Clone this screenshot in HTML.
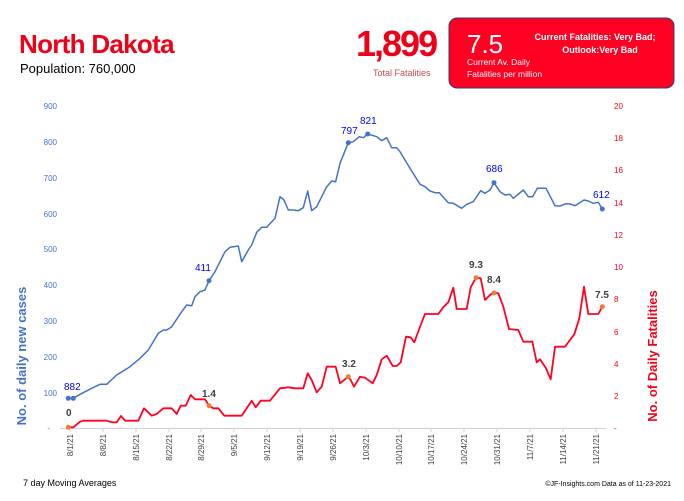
<!DOCTYPE html>
<html><head><meta charset="utf-8"><style>
body{margin:0;width:684px;height:496px;background:#fff;overflow:hidden;font-family:"Liberation Sans",sans-serif}
</style></head><body>
<svg width="684" height="496" viewBox="0 0 684 496" xmlns="http://www.w3.org/2000/svg" font-family="Liberation Sans, sans-serif">
<text x="19" y="53" font-size="26" font-weight="bold" fill="#f00018" letter-spacing="-0.7">North Dakota</text>
<text x="20" y="73" font-size="13" fill="#000">Population: 760,000</text>
<text x="356" y="56" font-size="36" font-weight="bold" fill="#f00018" letter-spacing="-2">1,899</text>
<text x="373" y="76" font-size="9" fill="#c0504d">Total Fatalities</text>
<rect x="449" y="18" width="225" height="70" rx="8" fill="#ff0022" stroke="#2f3f6f" stroke-width="1"/>
<text x="467" y="53" font-size="26" fill="#fff">7.5</text>
<text x="467" y="65" font-size="8.5" fill="#fff">Current Av. Daily</text>
<text x="467" y="77" font-size="8.5" fill="#fff">Fatalities per million</text>
<text x="595" y="40" font-size="9" font-weight="bold" fill="#fff" text-anchor="middle">Current Fatalities: Very Bad;</text>
<text x="600" y="53" font-size="9" font-weight="bold" fill="#fff" text-anchor="middle">Outlook:Very Bad</text>
<g font-size="8" fill="#4472c4" text-anchor="end">
<text x="57" y="109">900</text><text x="57" y="145">800</text><text x="57" y="181">700</text><text x="57" y="217">600</text><text x="57" y="252">500</text><text x="57" y="288">400</text><text x="57" y="324">300</text><text x="57" y="360">200</text><text x="57" y="396">100</text><text x="50" y="431">-</text>
</g>
<g font-size="8" fill="#f00018" text-anchor="start">
<text x="614" y="109">20</text><text x="614" y="141">18</text><text x="614" y="173">16</text><text x="614" y="206">14</text><text x="614" y="238">12</text><text x="614" y="270">10</text><text x="614" y="302">8</text><text x="614" y="335">6</text><text x="614" y="367">4</text><text x="614" y="399">2</text><text x="614" y="431">-</text>
</g>
<line x1="60" y1="428.5" x2="606" y2="428.5" stroke="#d0d0d0" stroke-width="1"/>
<g stroke="#d0d0d0">
<line x1="70" y1="428" x2="70" y2="432"/><line x1="103" y1="428" x2="103" y2="432"/><line x1="136" y1="428" x2="136" y2="432"/><line x1="169" y1="428" x2="169" y2="432"/><line x1="201" y1="428" x2="201" y2="432"/><line x1="234" y1="428" x2="234" y2="432"/><line x1="267" y1="428" x2="267" y2="432"/><line x1="300" y1="428" x2="300" y2="432"/><line x1="333" y1="428" x2="333" y2="432"/><line x1="366" y1="428" x2="366" y2="432"/><line x1="399" y1="428" x2="399" y2="432"/><line x1="431" y1="428" x2="431" y2="432"/><line x1="464" y1="428" x2="464" y2="432"/><line x1="497" y1="428" x2="497" y2="432"/><line x1="530" y1="428" x2="530" y2="432"/><line x1="563" y1="428" x2="563" y2="432"/><line x1="596" y1="428" x2="596" y2="432"/>
</g>
<g font-size="8" fill="#404040" text-anchor="end">
<text transform="translate(73,434) rotate(-90)">8/1/21</text>
<text transform="translate(106,434) rotate(-90)">8/8/21</text>
<text transform="translate(139,434) rotate(-90)">8/15/21</text>
<text transform="translate(172,434) rotate(-90)">8/22/21</text>
<text transform="translate(204,434) rotate(-90)">8/29/21</text>
<text transform="translate(237,434) rotate(-90)">9/5/21</text>
<text transform="translate(270,434) rotate(-90)">9/12/21</text>
<text transform="translate(303,434) rotate(-90)">9/19/21</text>
<text transform="translate(336,434) rotate(-90)">9/26/21</text>
<text transform="translate(369,434) rotate(-90)">10/3/21</text>
<text transform="translate(402,434) rotate(-90)">10/10/21</text>
<text transform="translate(434,434) rotate(-90)">10/17/21</text>
<text transform="translate(467,434) rotate(-90)">10/24/21</text>
<text transform="translate(500,434) rotate(-90)">10/31/21</text>
<text transform="translate(533,434) rotate(-90)">11/7/21</text>
<text transform="translate(566,434) rotate(-90)">11/14/21</text>
<text transform="translate(599,434) rotate(-90)">11/21/21</text>
</g>
<polyline fill="none" stroke="#4472c4" stroke-width="1.5" stroke-linejoin="round" points="68.3,398.3 73.3,398.3 80,394.3 91.7,388.3 100,384.3 106.7,384.3 116.7,375 130,366.7 140,358.3 148.3,350 158.3,333.3 163.3,330 166.7,330 171.7,326.7 181.7,311.7 186.7,305 191.7,305.7 195,296.7 200,291.7 205,290 209,280.7 215,271.7 225,251.7 230,247.3 238.3,246 241.7,261.7 248.3,250 251.7,245 256.7,232.3 261.7,227.3 266.7,227.3 275,218.3 280,196.7 284,200 288.3,210 293.3,210 298.3,210.7 303.3,207.7 307.7,191 311.7,210.7 316.7,206.7 321.7,196.7 326.7,186.7 331.7,181 335.7,181.7 340,163.3 348.3,142.7 353.3,141.7 359.3,136.7 363.3,137.7 367.7,134 376.7,136.7 381.7,140.7 386.7,137.7 391.7,147.7 396.7,147.7 400,151.7 410,168.3 420,184.3 425,186.7 430,191 435,192.7 439.3,192.7 448.3,202.7 453.3,203.3 461.7,208.3 466.7,204.3 473.3,201.7 480.7,190.7 485,193.3 490,190 494,182.7 500,191.7 505,195 510,194.3 513.3,198.3 523.3,190 528.3,196.7 532.7,196.7 537.3,188.3 546,188.3 555,205.7 560,206 566,203.7 570,204 575,205.7 584,200 588.3,201 593.3,203.3 598.3,202.3 602.3,209"/>
<polyline fill="none" stroke="#ff0022" stroke-width="1.8" stroke-linejoin="round" points="68.3,427.3 73.3,427.3 80,421.7 83.3,420.7 106.7,420.7 111.7,422.3 116.7,422.3 121,416 125,420.7 138.3,420.7 144,408.3 151.7,415.7 156.7,414 163.3,408.3 171.7,408.3 176.7,414 180.7,405.7 185.7,405.7 190.7,395 195,399.3 205,399.3 209,405.7 213.3,408.3 218.3,408.3 224.3,415.7 241.7,415.7 251.7,400.7 255.7,407.3 260.7,400.7 270,400.7 280,388.3 288.3,387.3 295,388.3 303.3,388.3 307.7,373.3 311.7,380 316.7,392.3 321.7,386.7 326.7,366.7 335.7,366.7 340,383.3 348.3,376.7 350.7,380 354,386.7 360,376.7 365,377.7 372.7,383.3 376.7,375 381.7,359.3 386.7,355.7 392.7,366 396.7,366 400.7,362.3 406,336.7 410.7,337.3 414.3,342.3 420.7,325 425,314 438.3,314 443.3,307.3 448.3,302.3 453.3,287.7 456.7,309 466.7,309 470.7,287.3 476,277.7 480.7,278.3 485,300 490,295 493.3,292.7 498.3,293.3 503.3,306.7 509,329 518.3,330 523.3,341.7 532.3,341.7 536.7,362.3 540,359.3 546,368.3 550.7,379.3 555,346.7 565,346.7 570,340 574.3,334.3 579.3,318.3 584,286.7 588.3,314 598.3,314 602.3,306.7"/>
<g fill="#4472c4">
<circle cx="68.3" cy="398.3" r="2.5"/><circle cx="73.3" cy="398.3" r="2.5"/><circle cx="209" cy="280.7" r="2.5"/><circle cx="348.3" cy="142.7" r="2.5"/><circle cx="367.7" cy="134" r="2.5"/><circle cx="494" cy="182.7" r="2.5"/><circle cx="602.3" cy="209" r="2.5"/>
</g>
<g fill="#ed7d31">
<circle cx="68.3" cy="427.3" r="2.5"/><circle cx="209" cy="405.7" r="2.5"/><circle cx="348.3" cy="376.7" r="2.5"/><circle cx="476" cy="277.7" r="2.5"/><circle cx="494" cy="293" r="2.5"/><circle cx="602.3" cy="306.7" r="2.5"/>
</g>
<g font-size="10" fill="#0000ee">
<text x="64" y="390">882</text><text x="195" y="271">411</text><text x="341" y="134">797</text><text x="360" y="124">821</text><text x="486" y="172">686</text><text x="593" y="198">612</text>
</g>
<g font-size="10" font-weight="bold" fill="#404040">
<text x="66" y="416">0</text><text x="202" y="397">1.4</text><text x="342" y="367">3.2</text><text x="469" y="268">9.3</text><text x="487" y="283">8.4</text><text x="595" y="298">7.5</text>
</g>
<text transform="translate(26,356) rotate(-90)" font-size="13" font-weight="bold" fill="#4472c4" text-anchor="middle">No. of daily new  cases</text>
<text transform="translate(657,356) rotate(-90)" font-size="13" font-weight="bold" fill="#f00018" text-anchor="middle">No. of Daily Fatalities</text>
<text x="23" y="486" font-size="9" fill="#000">7 day Moving Averages</text>
<text x="671" y="486" font-size="7" fill="#000" text-anchor="end">©JF-Insights.com  Data as of 11-23-2021</text>
</svg>
</body></html>
